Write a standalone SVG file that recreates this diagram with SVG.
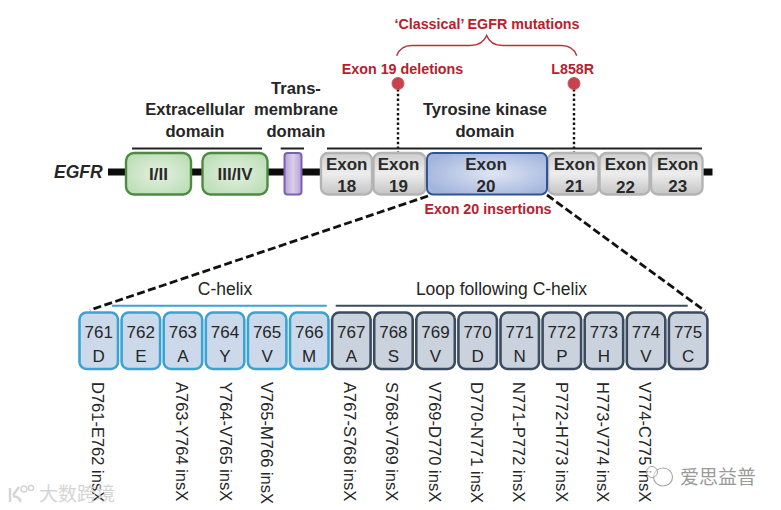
<svg xmlns="http://www.w3.org/2000/svg" width="781" height="510" viewBox="0 0 781 510">
<style>
text{font-family:"Liberation Sans",Arial,sans-serif;fill:#1c1c1c}
.t{font-size:16.6px;font-weight:bold;text-anchor:middle;fill:#262626}
.x{font-size:17px;font-weight:bold;text-anchor:middle;fill:#2a2a2a}
.r{font-size:14.3px;font-weight:bold;text-anchor:middle;fill:#b8202e}
.n{font-size:17px;text-anchor:middle;fill:#262626}
.h{font-size:17.5px;text-anchor:middle;fill:#262626}
.v{font-size:16.5px;fill:#262626}
.g{fill:url(#green);stroke:#4f8a45;stroke-width:2.4}
.e{fill:url(#grey);stroke:#b4b4b4;stroke-width:2.4}
.c{fill:#cbd9ea;stroke:#3aa3d4;stroke-width:2.6}
.d{fill:#c9d2dd;stroke:#3c4c60;stroke-width:2.6}
.bar{stroke:#222;stroke-width:2;fill:none}
.dash{stroke:#111;stroke-width:2.8;stroke-dasharray:8 3.500;fill:none}
.dot{stroke:#111;stroke-width:2.4;stroke-dasharray:2.4 2.4;fill:none}
.pin{fill:#c5444c;stroke:#c9545b;stroke-width:1}
.w{font-family:"Noto Sans CJK SC",sans-serif;font-size:19px}
</style>
<defs>
<radialGradient id="green" cx="50%" cy="50%" r="65%"><stop offset="0" stop-color="#e3f1df"/><stop offset="1" stop-color="#b9dcb3"/></radialGradient>
<linearGradient id="grey" x1="0" x2="0" y1="0" y2="1"><stop offset="0" stop-color="#cfcfcf"/><stop offset=".5" stop-color="#ededed"/><stop offset="1" stop-color="#c4c4c4"/></linearGradient>
<linearGradient id="purple" x1="0" x2="1" y1="0" y2="0"><stop offset="0" stop-color="#b3a3d6"/><stop offset=".5" stop-color="#d9d0ec"/><stop offset="1" stop-color="#b3a3d6"/></linearGradient>
<radialGradient id="blue" cx="55%" cy="50%" r="60%"><stop offset="0" stop-color="#dfe5f4"/><stop offset="1" stop-color="#a3b5dd"/></radialGradient>
</defs>

<g id="connectors">
<rect x="108" y="168.500" width="604.500" height="7" fill="#0c0c0c"/>
<path class="dash" d="M428 196 L90 310"/>
<path class="dash" d="M547 195 L705 311"/>
<path class="dot" d="M398 89V153"/>
<path class="dot" d="M574 89V153"/>
<path d="M396.700 55.700C399 49 404 45.500 412 45.500H470C478 45.500 484 42 486.700 35.500C489 42 495 45.500 503 45.500H561C569 45.500 574.500 49 576.700 55.700" fill="none" stroke="#b8303a" stroke-width="1.400"/>
<path class="bar" d="M132 148.500H262M280.700 148.500H304M327 148.500H702"/>
<path d="M112 305.700H326.700" stroke="#3aa3d4" stroke-width="2" fill="none"/>
<path d="M335.700 305.700H687.700" stroke="#3c4c60" stroke-width="2" fill="none"/>
</g>

<g id="labels">
<text x="54" y="178" font-size="17.500" font-weight="bold" font-style="italic" style="fill:#262626">EGFR</text>
<text class="t" x="195" y="115">Extracellular</text><text class="t" x="195" y="136.700">domain</text>
<text class="t" x="296" y="94">Trans-</text><text class="t" x="296" y="115">membrane</text><text class="t" x="296" y="137">domain</text>
<text class="t" x="485" y="115">Tyrosine kinase</text><text class="t" x="485" y="136.700">domain</text>
<text class="r" x="487" y="28.500">‘Classical’ EGFR mutations</text>
<text class="r" x="402.500" y="74">Exon 19 deletions</text>
<text class="r" x="572.700" y="74">L858R</text>
<text class="r" x="488" y="213.500">Exon 20 insertions</text>
<text class="h" x="225" y="295">C-helix</text>
<text class="h" x="501.500" y="295">Loop following C-helix</text>
</g>

<g id="pin-ex19"><circle class="pin" cx="398" cy="83.500" r="6"/></g>
<g id="pin-l858r"><circle class="pin" cx="574" cy="83.500" r="6"/></g>

<g id="dom-1"><rect class="g" x="126" y="153" width="65" height="41.500" rx="8"/><text class="x" x="158.500" y="180">I/II</text></g>
<g id="dom-2"><rect class="g" x="202.500" y="153" width="65" height="41.500" rx="8"/><text class="x" x="235" y="180">III/IV</text></g>
<g id="tm"><rect x="284.500" y="153" width="17" height="41.500" rx="3" fill="url(#purple)" stroke="#7a62ad" stroke-width="2"/></g>
<g id="ex18"><rect class="e" x="321" y="153" width="51" height="41.500" rx="7"/><text class="x" x="346.700" y="169.500">Exon</text><text class="x" x="346.700" y="192">18</text></g>
<g id="ex19"><rect class="e" x="373.500" y="153" width="52" height="41.500" rx="7"/><text class="x" x="398.500" y="169.500">Exon</text><text class="x" x="398.500" y="192">19</text></g>
<g id="ex21"><rect class="e" x="548" y="153" width="50.500" height="41.500" rx="7"/><text class="x" x="574.500" y="169.500">Exon</text><text class="x" x="574.500" y="192">21</text></g>
<g id="ex22"><rect class="e" x="599.500" y="153" width="50" height="41.500" rx="7"/><text class="x" x="625.500" y="169.500">Exon</text><text class="x" x="625.500" y="192.500">22</text></g>
<g id="ex23"><rect class="e" x="651" y="153" width="51.500" height="41.500" rx="7"/><text class="x" x="677.700" y="169.500">Exon</text><text class="x" x="677.700" y="192">23</text></g>
<g id="ex20"><rect x="427" y="153" width="120" height="41.500" rx="6" fill="url(#blue)" stroke="#2f5597" stroke-width="2"/><text class="x" x="486" y="169.500">Exon</text><text class="x" x="486" y="192">20</text></g>

<g id="r761"><rect class="c" x="79.500" y="312.500" width="38.500" height="56.500" rx="7"/><text class="n" x="98.700" y="338">761</text><text class="n" x="98.700" y="362">D</text></g>
<g id="r762"><rect class="c" x="121.600" y="312.500" width="38.500" height="56.500" rx="7"/><text class="n" x="140.800" y="338">762</text><text class="n" x="140.800" y="362">E</text></g>
<g id="r763"><rect class="c" x="163.700" y="312.500" width="38.500" height="56.500" rx="7"/><text class="n" x="182.900" y="338">763</text><text class="n" x="182.900" y="362">A</text></g>
<g id="r764"><rect class="c" x="205.800" y="312.500" width="38.500" height="56.500" rx="7"/><text class="n" x="225" y="338">764</text><text class="n" x="225" y="362">Y</text></g>
<g id="r765"><rect class="c" x="247.900" y="312.500" width="38.500" height="56.500" rx="7"/><text class="n" x="267.100" y="338">765</text><text class="n" x="267.100" y="362">V</text></g>
<g id="r766"><rect class="c" x="290" y="312.500" width="38.500" height="56.500" rx="7"/><text class="n" x="309.200" y="338">766</text><text class="n" x="309.200" y="362">M</text></g>
<g id="r767"><rect class="d" x="332.100" y="312.500" width="38.500" height="56.500" rx="7"/><text class="n" x="351.300" y="338">767</text><text class="n" x="351.300" y="362">A</text></g>
<g id="r768"><rect class="d" x="374.200" y="312.500" width="38.500" height="56.500" rx="7"/><text class="n" x="393.400" y="338">768</text><text class="n" x="393.400" y="362">S</text></g>
<g id="r769"><rect class="d" x="416.300" y="312.500" width="38.500" height="56.500" rx="7"/><text class="n" x="435.500" y="338">769</text><text class="n" x="435.500" y="362">V</text></g>
<g id="r770"><rect class="d" x="458.400" y="312.500" width="38.500" height="56.500" rx="7"/><text class="n" x="477.600" y="338">770</text><text class="n" x="477.600" y="362">D</text></g>
<g id="r771"><rect class="d" x="500.500" y="312.500" width="38.500" height="56.500" rx="7"/><text class="n" x="519.700" y="338">771</text><text class="n" x="519.700" y="362">N</text></g>
<g id="r772"><rect class="d" x="542.600" y="312.500" width="38.500" height="56.500" rx="7"/><text class="n" x="561.800" y="338">772</text><text class="n" x="561.800" y="362">P</text></g>
<g id="r773"><rect class="d" x="584.700" y="312.500" width="38.500" height="56.500" rx="7"/><text class="n" x="603.900" y="338">773</text><text class="n" x="603.900" y="362">H</text></g>
<g id="r774"><rect class="d" x="626.800" y="312.500" width="38.500" height="56.500" rx="7"/><text class="n" x="646" y="338">774</text><text class="n" x="646" y="362">V</text></g>
<g id="r775"><rect class="d" x="668.900" y="312.500" width="38.500" height="56.500" rx="7"/><text class="n" x="688.100" y="338">775</text><text class="n" x="688.100" y="362">C</text></g>

<g id="insertions">
<text class="v" transform="translate(92 382) rotate(90)">D761-E762 insX</text>
<text class="v" transform="translate(175.500 382) rotate(90)">A763-Y764 insX</text>
<text class="v" transform="translate(219.500 382) rotate(90)">Y764-V765 insX</text>
<text class="v" transform="translate(260.500 382) rotate(90)">V765-M766 insX</text>
<text class="v" transform="translate(344 382) rotate(90)">A767-S768 insX</text>
<text class="v" transform="translate(386 382) rotate(90)">S768-V769 insX</text>
<text class="v" transform="translate(429 382) rotate(90)">V769-D770 insX</text>
<text class="v" transform="translate(470.500 382) rotate(90)">D770-N771 insX</text>
<text class="v" transform="translate(513 382) rotate(90)">N771-P772 insX</text>
<text class="v" transform="translate(555.500 382) rotate(90)">P772-H773 insX</text>
<text class="v" transform="translate(597 382) rotate(90)">H773-V774 insX</text>
<text class="v" transform="translate(639 382) rotate(90)">V774-C775 insX</text>
</g>

<g id="watermarks">
<text class="w" x="39" y="501" style="fill:#d5d5d5">大数跨境</text>
<path d="M10 488V502M13 495L19 487M13 496C18 497 21 499 20 502" fill="none" stroke="#d5d5d5" stroke-width="2.500"/>
<circle cx="24" cy="489" r="3" fill="none" stroke="#d5d5d5" stroke-width="1.500"/><circle cx="31" cy="488" r="2.500" fill="none" stroke="#d5d5d5" stroke-width="1.500"/>
<text class="w" x="680" y="484" style="fill:#9a9a9a">爱思益普</text>
<ellipse cx="663" cy="477" rx="9.500" ry="9" fill="#fff" fill-opacity=".6" stroke="#a8a8a8" stroke-width="1.200"/>
<circle cx="652" cy="472" r="5.500" fill="#fff" fill-opacity=".5" stroke="#a8a8a8" stroke-width="1"/>
</g>
</svg>
